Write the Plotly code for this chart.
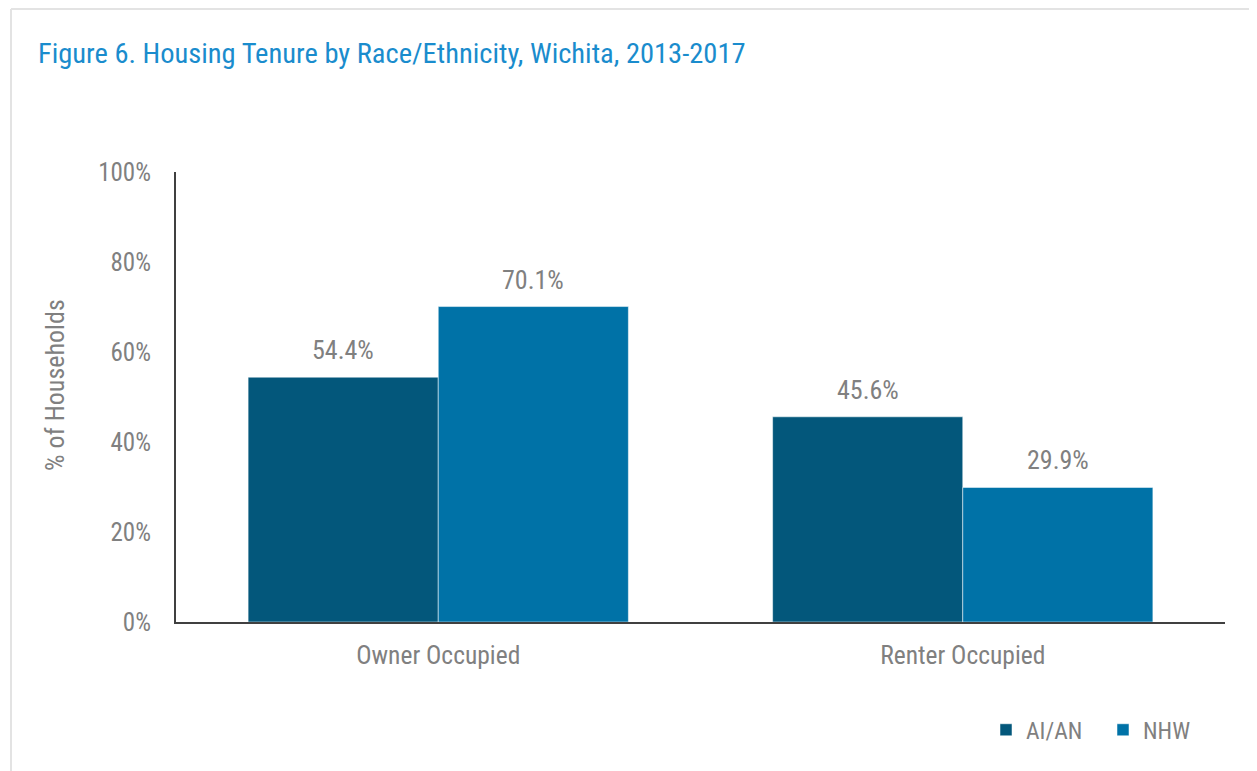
import plotly.graph_objects as go

categories = ["Owner Occupied", "Renter Occupied"]
aian_values = [54.4, 45.6]
nhw_values = [70.1, 29.9]
series_names = ["AI/AN", "NHW"]
tick_vals = [0, 20, 40, 60, 80, 100]
tick_text = ["0%", "20%", "40%", "60%", "80%", "100%"]

FONT = "Roboto Condensed, Liberation Sans Narrow, Arial Narrow, sans-serif"
GRAY = "#808080"
OFF = 8  # page body margin
W, H = 1257 - OFF, 771 - OFF
L, T = 176 - OFF, 172 - OFF
RIGHT_EDGE, BOTTOM_EDGE = 1225 - OFF, 622 - OFF
R, B = W - RIGHT_EDGE, H - BOTTOM_EDGE
pw, ph = W - L - R, H - T - B
BARGAP = 0.275

def px_x(p):
    return (p - OFF - L) / pw

def px_y(p):
    return (H - B - (p - OFF)) / ph

colors = ["#03577B", "#0072A7"]
series = [aian_values, nhw_values]

fig = go.Figure()
for name, vals, color in zip(series_names, series, colors):
    fig.add_trace(go.Bar(
        name=name, x=categories, y=vals,
        marker=dict(color=color, line=dict(color="rgba(255,255,255,0.5)", width=1)),
        hoverinfo="x+y",
    ))

# value labels above bars
cat_w = pw / len(categories)
bar_w = cat_w * (1 - BARGAP) / len(series)
annotations = []
for si, vals in enumerate(series):
    shift = (si - (len(series) - 1) / 2) * bar_w
    for cat, v in zip(categories, vals):
        annotations.append(dict(
            x=cat, y=v, xref="x", yref="y", text=f"{v:.1f}%", showarrow=False,
            xshift=shift, yshift=10, yanchor="bottom", xanchor="center",
            font=dict(family=FONT, size=26, color=GRAY),
        ))

annotations.append(dict(
    text="% of Households", textangle=-90, showarrow=False,
    xref="paper", yref="paper", x=px_x(55), y=px_y(385),
    xanchor="center", yanchor="middle",
    font=dict(family=FONT, size=26, color=GRAY),
))

fig.update_layout(
    width=W, height=H,
    margin=dict(l=L, r=R, t=T, b=B, pad=0),
    paper_bgcolor="white", plot_bgcolor="white",
    barmode="group", bargap=BARGAP, bargroupgap=0,
    font=dict(family=FONT, color=GRAY),
    title=dict(text="Figure 6. Housing Tenure by Race/Ethnicity, Wichita, 2013-2017",
               x=(38 - OFF) / W, xanchor="left", y=1 - (53 - OFF) / H, yanchor="middle",
               font=dict(family=FONT, size=28.5, color="#1A8CCD")),
    xaxis=dict(showline=True, linecolor="#404040", linewidth=2,
               ticks="outside", ticklen=9, tickcolor="rgba(0,0,0,0)",
               tickfont=dict(family=FONT, size=25.5, color=GRAY), showgrid=False),
    yaxis=dict(range=[0, 100], tickvals=tick_vals, ticktext=tick_text,
               showline=True, linecolor="#404040", linewidth=2, showgrid=False,
               zeroline=False, ticks="outside", ticklen=18, tickcolor="rgba(0,0,0,0)",
               tickfont=dict(family=FONT, size=25, color=GRAY)),
    legend=dict(orientation="h", x=(986 - OFF) / W, xanchor="left", xref="container",
                y=1 - (730 - OFF) / H, yref="container", yanchor="middle",
                font=dict(family=FONT, size=23.5, color=GRAY),
                itemwidth=30, traceorder="normal", entrywidth=72),
    annotations=annotations,
    shapes=[
        dict(type="line", xref="paper", yref="paper",
             x0=px_x(11), x1=px_x(1300), y0=px_y(9), y1=px_y(9),
             line=dict(color="#E3E3E3", width=2)),
        dict(type="line", xref="paper", yref="paper",
             x0=px_x(11), x1=px_x(11), y0=px_y(9), y1=px_y(800),
             line=dict(color="#E3E3E3", width=2)),
    ],
)

fig.write_html("out.html")
